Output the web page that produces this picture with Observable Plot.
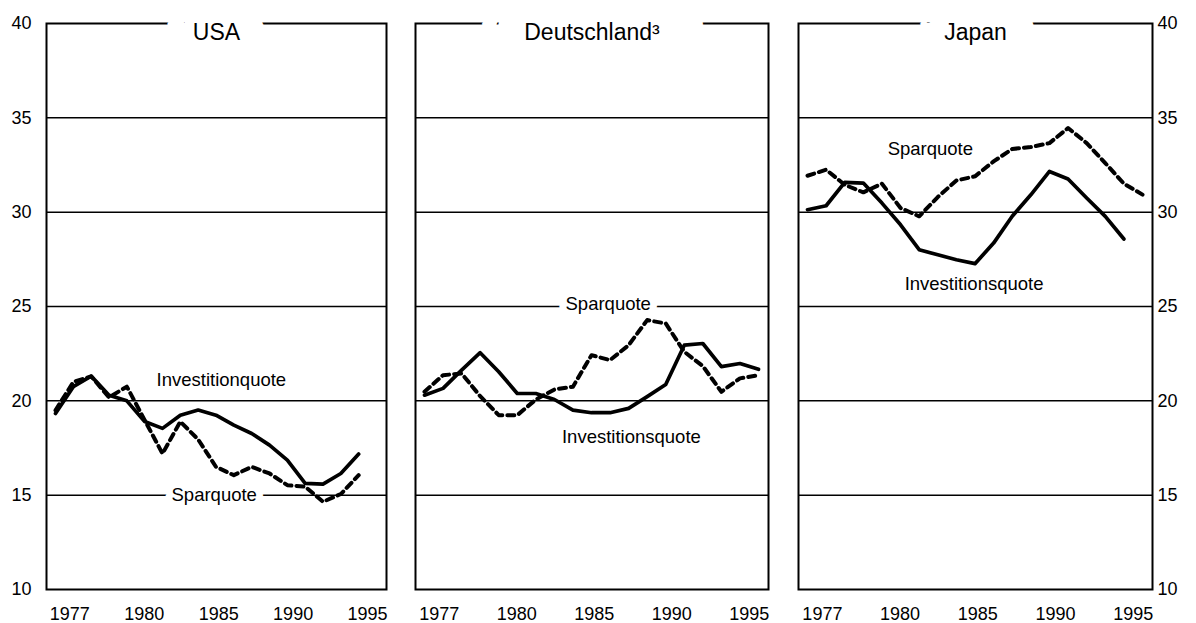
<!DOCTYPE html>
<html>
<head>
<meta charset="utf-8">
<script src="https://cdn.jsdelivr.net/npm/d3@7"></script>
<script src="https://cdn.jsdelivr.net/npm/@observablehq/plot@0.6"></script>
<style>
  html, body { margin: 0; padding: 0; background: #fff; }
  #chart { position: relative; width: 1196px; height: 623px; overflow: hidden; background: #fff; }
  #chart svg { position: absolute; top: 0; }
</style>
</head>
<body>
<div id="chart"></div>
<script>
// ---- Data ----
const years = [1977, 1978, 1979, 1980, 1981, 1982, 1983, 1984, 1985, 1986,
               1987, 1988, 1989, 1990, 1991, 1992, 1993, 1994, 1995];

const usaInvestition = [19.33, 20.75, 21.31, 20.3, 20.0, 18.9, 18.54, 19.24, 19.51, 19.24,
                        18.71, 18.27, 17.65, 16.86, 15.62, 15.59, 16.15, 17.18];
const usaSpar        = [19.5, 21.0, 21.3, 20.18, 20.75, 18.98, 17.2, 18.9, 17.95, 16.5,
                        16.06, 16.5, 16.15, 15.53, 15.45, 14.65, 15.06, 16.06];

const deInvestition  = [20.3, 20.66, 21.63, 22.55, 21.54, 20.39, 20.39, 20.07, 19.51, 19.37,
                        19.37, 19.6, 20.22, 20.87, 22.95, 23.04, 21.81, 21.98, 21.67];
const deSpar         = [20.48, 21.36, 21.45, 20.25, 19.24, 19.24, 20.07, 20.6, 20.75, 22.42,
                        22.16, 22.95, 24.28, 24.1, 22.6, 21.84, 20.48, 21.19, 21.36];

const jpInvestition  = [30.13, 30.34, 31.58, 31.54, 30.48, 29.33, 28.01, 27.74, 27.48, 27.27,
                        28.36, 29.78, 30.92, 32.16, 31.76, 30.75, 29.78, 28.58];
const jpSpar         = [31.93, 32.25, 31.45, 31.05, 31.51, 30.22, 29.78, 30.8, 31.68, 31.9,
                        32.69, 33.35, 33.45, 33.66, 34.46, 33.66, 32.6, 31.51, 30.93];

const countries   = ["USA", "Deutschland³", "Japan"];
const xTickLabels = ["1977", "1980", "1985", "1990", "1995"];
const yTicks      = [10, 15, 20, 25, 30, 35, 40];
const gridValues  = [15, 20, 25, 30, 35];

// series labels placed inside the panels (year, value)
const usaLabels = [
  {text: "Investitionquote", year: 1986.3, value: 21.1, halo: false},
  {text: "Sparquote",        year: 1985.9, value: 15.0, halo: true}
];
const deLabels = [
  {text: "Sparquote",         year: 1986.9,  value: 25.15, halo: true},
  {text: "Investitionsquote", year: 1988.15, value: 18.1,  halo: false}
];
const jpLabels = [
  {text: "Sparquote",         year: 1983.6,  value: 33.36, halo: false},
  {text: "Investitionsquote", year: 1985.95, value: 26.21, halo: false}
];

// ---- Layout ----
const H = 623;
const font = "'Liberation Sans', Arial, Helvetica, sans-serif";
const panels = [
  {title: countries[0], inv: usaInvestition, spar: usaSpar, labels: usaLabels,
   left: 0,   width: 400, mL: 46, mR: 14, axis: "left",  titleHalo: 54},
  {title: countries[1], inv: deInvestition,  spar: deSpar,  labels: deLabels,
   left: 400, width: 380, mL: 15, mR: 12, axis: null,    titleHalo: 88},
  {title: countries[2], inv: jpInvestition,  spar: jpSpar,  labels: jpLabels,
   left: 780, width: 416, mL: 18, mR: 44, axis: "right", titleHalo: 57}
];

const series = (arr) => arr.map((v, i) => ({year: years[i], value: v}));

// evenly spaced label positions as printed in the original
const tickStart = 1977.8, tickEnd = 1994.5;
const tickPos = xTickLabels.map((_, i) => tickStart + i * (tickEnd - tickStart) / (xTickLabels.length - 1));

const chart = document.getElementById("chart");

for (const p of panels) {
  const marks = [
    Plot.gridY(gridValues, {stroke: "black", strokeOpacity: 1, strokeWidth: 1.5}),
    Plot.frame({stroke: "black", strokeWidth: 2}),
    Plot.text([p.title], {frameAnchor: "top", text: d => d, fontSize: 23, fill: "black",
                          stroke: "white", strokeWidth: p.titleHalo, strokeLinejoin: "bevel"}),
    Plot.line(series(p.spar), {x: "year", y: "value", stroke: "black", strokeWidth: 4,
                               strokeDasharray: "7,5"}),
    Plot.line(series(p.inv), {x: "year", y: "value", stroke: "black", strokeWidth: 3.7,
                              strokeLinejoin: "round"}),
    Plot.text(p.labels.filter(d => d.halo), {x: "year", y: "value", text: "text", fontSize: 18.5,
                              fill: "black", stroke: "white", strokeWidth: 14}),
    Plot.text(p.labels.filter(d => !d.halo), {x: "year", y: "value", text: "text", fontSize: 18.5,
                              fill: "black"}),
    Plot.axisX({ticks: tickPos, tickFormat: d => xTickLabels[tickPos.indexOf(d)],
                tickSize: 0, tickPadding: 18, fontSize: 18, label: null})
  ];
  if (p.axis === "left") {
    marks.push(Plot.axisY({anchor: "left", ticks: yTicks, tickSize: 0, tickPadding: 15,
                           fontSize: 18, label: null}));
  } else if (p.axis === "right") {
    marks.push(Plot.axisY({anchor: "right", ticks: yTicks, tickSize: 0, tickPadding: 5,
                           fontSize: 18, label: null}));
  }
  const svg = Plot.plot({
    width: p.width,
    height: H,
    marginLeft: p.mL,
    marginRight: p.mR,
    marginTop: 23,
    marginBottom: 34,
    x: {type: "linear", domain: [1977, 1995], insetLeft: 9, insetRight: 10, label: null},
    y: {domain: [10, 40], label: null, axis: p.axis ? undefined : null},
    style: {fontFamily: font, color: "black", background: "transparent", overflow: "visible"},
    marks
  });
  svg.style.left = p.left + "px";
  chart.appendChild(svg);
}
</script>
</body>
</html>
